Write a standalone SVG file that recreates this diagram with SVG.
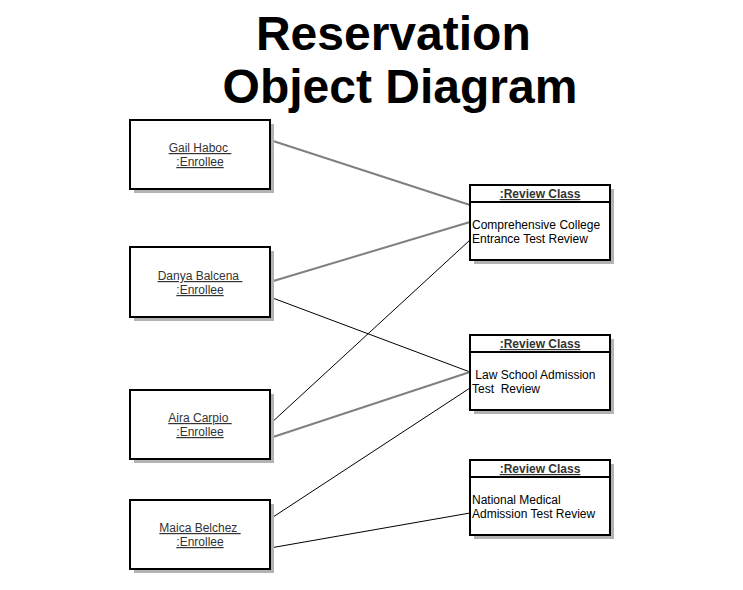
<svg xmlns="http://www.w3.org/2000/svg" width="743" height="590" viewBox="0 0 743 590">
<style>
text{font-family:"Liberation Sans",Arial,sans-serif;white-space:pre}
.title{font-size:48px;font-weight:bold;fill:#000;text-anchor:middle}
.box{fill:#fff;stroke:#000;stroke-width:2}
.shadow{fill:#b3b3b3}
.lbl{font-size:12px;fill:#333;text-anchor:middle;text-decoration:underline}
.hdr{font-size:12px;font-weight:bold;fill:#333;text-anchor:middle;text-decoration:underline}
.body{font-size:12px;fill:#000}
.div{stroke:#000;stroke-width:2}
.gl{stroke:#808080;stroke-width:2;fill:none}
.bl{stroke:#000;stroke-width:1;fill:none}
</style>
<rect width="743" height="590" fill="#fff"/>
<g id="title">
<text class="title" x="400" y="50">Reservation </text>
<text class="title" x="400" y="103">Object Diagram</text>
</g>
<g id="connectors">
<line class="gl" x1="270" y1="140" x2="470" y2="205"/>
<line class="gl" x1="270" y1="282" x2="470" y2="222"/>
<line class="bl" x1="270" y1="297" x2="470" y2="372"/>
<line class="bl" x1="270" y1="424" x2="470" y2="240"/>
<line class="gl" x1="270" y1="438" x2="470" y2="372"/>
<line class="bl" x1="270" y1="519" x2="470" y2="388"/>
<line class="bl" x1="270" y1="548" x2="470" y2="513"/>
</g>
<g id="gail">
<rect class="shadow" x="134" y="124" width="140" height="69"/>
<rect class="box" x="130" y="120" width="140" height="69"/>
<text class="lbl" x="200" y="152">Gail Haboc </text>
<text class="lbl" x="200" y="166">:Enrollee</text>
</g>
<g id="danya">
<rect class="shadow" x="134" y="251" width="140" height="70"/>
<rect class="box" x="130" y="247" width="140" height="70"/>
<text class="lbl" x="200" y="280">Danya Balcena </text>
<text class="lbl" x="200" y="294">:Enrollee</text>
</g>
<g id="aira">
<rect class="shadow" x="134" y="394" width="140" height="69"/>
<rect class="box" x="130" y="390" width="140" height="69"/>
<text class="lbl" x="200" y="422">Aira Carpio </text>
<text class="lbl" x="200" y="436">:Enrollee</text>
</g>
<g id="maica">
<rect class="shadow" x="134" y="504" width="140" height="69"/>
<rect class="box" x="130" y="500" width="140" height="69"/>
<text class="lbl" x="200" y="532">Maica Belchez </text>
<text class="lbl" x="200" y="546">:Enrollee</text>
</g>
<g id="class1">
<rect class="shadow" x="474" y="189" width="140" height="75"/>
<rect class="box" x="470" y="185" width="140" height="75"/>
<line class="div" x1="470" y1="202" x2="610" y2="202"/>
<text class="hdr" x="540" y="198">:Review Class</text>
<text class="body" x="472" y="229">Comprehensive College</text>
<text class="body" x="472" y="243">Entrance Test Review</text>
</g>
<g id="class2">
<rect class="shadow" x="474" y="339" width="140" height="75"/>
<rect class="box" x="470" y="335" width="140" height="75"/>
<line class="div" x1="470" y1="352" x2="610" y2="352"/>
<text class="hdr" x="540" y="348">:Review Class</text>
<text class="body" x="472" y="379"> Law School Admission</text>
<text class="body" x="472" y="393">Test  Review</text>
</g>
<g id="class3">
<rect class="shadow" x="474" y="464" width="140" height="75"/>
<rect class="box" x="470" y="460" width="140" height="75"/>
<line class="div" x1="470" y1="477" x2="610" y2="477"/>
<text class="hdr" x="540" y="473">:Review Class</text>
<text class="body" x="472" y="504">National Medical</text>
<text class="body" x="472" y="518">Admission Test Review</text>
</g>
</svg>
